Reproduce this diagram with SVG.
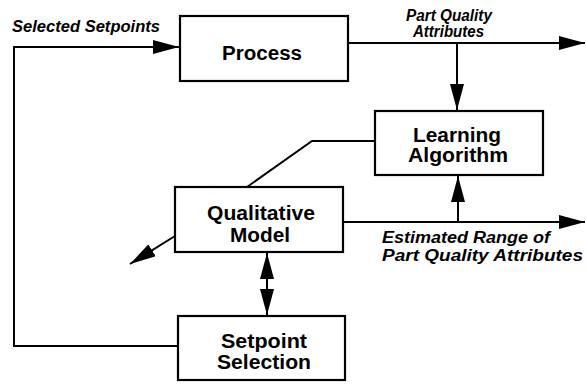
<svg xmlns="http://www.w3.org/2000/svg" width="586" height="387" viewBox="0 0 586 387">
<style>
.box{fill:#fff;stroke:#000;stroke-width:2.2}
.node{font-family:"Liberation Sans",Arial,sans-serif;font-weight:bold;font-size:20px;text-anchor:middle;fill:#000}
.lbl{font-family:"Liberation Sans",Arial,sans-serif;font-weight:bold;font-style:italic;font-size:16px;fill:#000}
.ln{fill:none;stroke:#000;stroke-width:2}
</style>
<defs>
<marker id="ah" markerUnits="userSpaceOnUse" markerWidth="26" markerHeight="14" refX="26" refY="7" orient="auto-start-reverse">
<path d="M0,0 L26,7 L0,14 z" fill="#000"/>
</marker>
</defs>
<rect width="586" height="387" fill="#fff"/>
<g id="connectors">
<path class="ln" d="M178,346 H14 V47 H179" marker-end="url(#ah)"/>
<path class="ln" d="M348,43 H585" marker-end="url(#ah)"/>
<path class="ln" d="M457,43 V110" marker-end="url(#ah)"/>
<path class="ln" d="M343,222 H585" marker-end="url(#ah)"/>
<path class="ln" d="M458,222 V176" marker-end="url(#ah)"/>
<path class="ln" d="M375,141 H312 L247,187"/>
<path class="ln" d="M175,236 L130,264" marker-end="url(#ah)"/>
<path class="ln" d="M267,253 V315" marker-start="url(#ah)" marker-end="url(#ah)"/>
</g>
<g id="process">
<rect class="box" x="180" y="16" width="168" height="65"/>
<text class="node" x="262" y="60" textLength="80" lengthAdjust="spacingAndGlyphs">Process</text>
</g>
<g id="learning">
<rect class="box" x="375" y="111" width="168" height="64"/>
<text class="node" x="457" y="142" textLength="88" lengthAdjust="spacingAndGlyphs">Learning</text>
<text class="node" x="458" y="162" textLength="100" lengthAdjust="spacingAndGlyphs">Algorithm</text>
</g>
<g id="qualitative">
<rect class="box" x="175" y="187" width="168" height="65"/>
<text class="node" x="261" y="220" textLength="108" lengthAdjust="spacingAndGlyphs">Qualitative</text>
<text class="node" x="260" y="242" textLength="60" lengthAdjust="spacingAndGlyphs">Model</text>
</g>
<g id="setpoint">
<rect class="box" x="178" y="316" width="167" height="64"/>
<text class="node" x="264" y="348" textLength="86" lengthAdjust="spacingAndGlyphs">Setpoint</text>
<text class="node" x="264" y="369" textLength="94" lengthAdjust="spacingAndGlyphs">Selection</text>
</g>
<g id="labels">
<text class="lbl" x="12" y="32" textLength="148" lengthAdjust="spacingAndGlyphs">Selected Setpoints</text>
<text class="lbl" x="406" y="21" textLength="86" lengthAdjust="spacingAndGlyphs">Part Quality</text>
<text class="lbl" x="413" y="37" textLength="71" lengthAdjust="spacingAndGlyphs">Attributes</text>
<text class="lbl" x="382" y="243" textLength="168" lengthAdjust="spacingAndGlyphs">Estimated Range of</text>
<text class="lbl" x="382" y="261" textLength="201" lengthAdjust="spacingAndGlyphs">Part Quality Attributes</text>
</g>
</svg>
